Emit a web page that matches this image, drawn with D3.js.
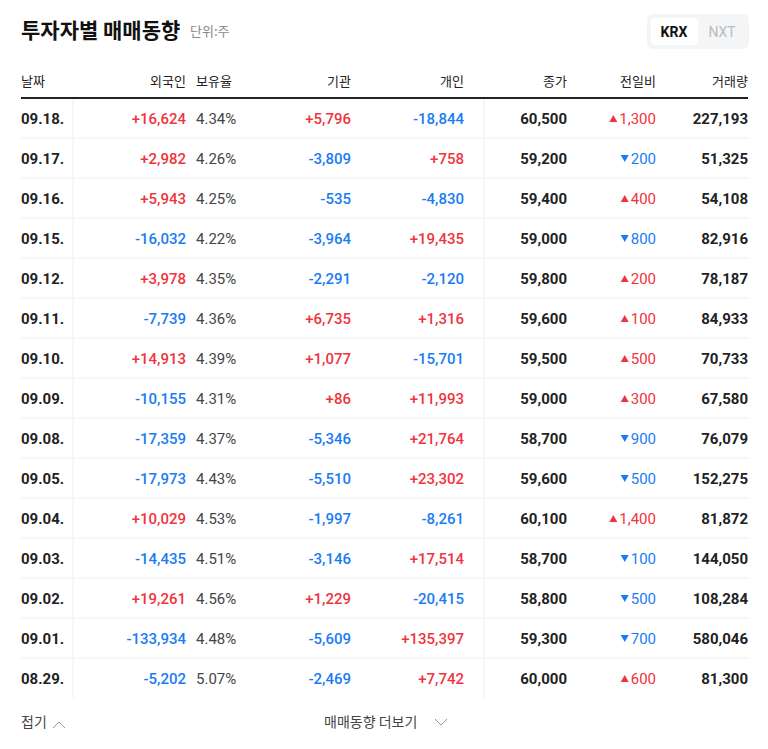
<!DOCTYPE html><html><head><meta charset="utf-8"><script src="https://cdn.jsdelivr.net/npm/d3@7"></script>
<style>body{margin:0;background:#fff}text{font-family:"Noto Sans CJK KR","Noto Sans",sans-serif}.n{font-family:Roboto,"Liberation Sans",sans-serif}</style></head><body>
<svg id="c" width="768" height="749"></svg>
<script>
const dates=["09.18.","09.17.","09.16.","09.15.","09.12.","09.11.","09.10.","09.09.","09.08.","09.05.","09.04.","09.03.","09.02.","09.01.","08.29."];
const foreign=[16624,2982,5943,-16032,3978,-7739,14913,-10155,-17359,-17973,10029,-14435,19261,-133934,-5202];
const holding=[4.34,4.26,4.25,4.22,4.35,4.36,4.39,4.31,4.37,4.43,4.53,4.51,4.56,4.48,5.07];
const inst=[5796,-3809,-535,-3964,-2291,6735,1077,86,-5346,-5510,-1997,-3146,1229,-5609,-2469];
const indiv=[-18844,758,-4830,19435,-2120,1316,-15701,11993,21764,23302,-8261,17514,-20415,135397,7742];
const close=[60500,59200,59400,59000,59800,59600,59500,59000,58700,59600,60100,58700,58800,59300,60000];
const change=[1300,-200,400,-800,200,100,500,300,-900,-500,1400,-100,-500,-700,600];
const volume=[227193,51325,54108,82916,78187,84933,70733,67580,76079,152275,81872,144050,108284,580046,81300];
const headers=["날짜","외국인","보유율","기관","개인","종가","전일비","거래량"];
const RED="#f0343d",BLUE="#1a7cf5",DARK="#222";
const svg=d3.select("#c");
const fmt=d3.format(",");
const sg=v=>(v>0?"+":v<0?"-":"")+fmt(Math.abs(v));
const col=v=>v>0?RED:v<0?BLUE:DARK;
const y=d3.scaleBand().domain(d3.range(dates.length)).range([98,698]);
svg.append("text").attr("x",21).attr("y",38).attr("font-size",21).attr("font-weight",700).attr("fill","#111").text("투자자별 매매동향");
svg.append("text").attr("x",190).attr("y",36).attr("font-size",13).attr("fill","#888").text("단위:주");
svg.append("rect").attr("x",647).attr("y",14).attr("width",102).attr("height",35).attr("rx",6).attr("fill","#f4f5f7");
svg.append("rect").attr("x",651).attr("y",18).attr("width",47).attr("height",27).attr("rx",4).attr("fill","#fff");
svg.append("text").attr("class","n").attr("x",674).attr("y",37).attr("text-anchor","middle").attr("font-size",14).attr("font-weight",700).attr("fill","#111").text("KRX");
svg.append("text").attr("class","n").attr("x",722).attr("y",37).attr("text-anchor","middle").attr("font-size",14).attr("fill","#bbb").text("NXT");
const hx=[[21,"start"],[186,"end"],[196,"start"],[351,"end"],[464,"end"],[567,"end"],[656,"end"],[748,"end"]];
headers.forEach((h,i)=>svg.append("text").attr("x",hx[i][0]).attr("y",86).attr("text-anchor",hx[i][1]).attr("font-size",13).attr("fill","#222").text(h));
svg.append("line").attr("x1",73).attr("x2",73).attr("y1",98).attr("y2",698).attr("stroke","#eee");
svg.append("line").attr("x1",484).attr("x2",484).attr("y1",98).attr("y2",698).attr("stroke","#eee");
const rows=svg.selectAll("g.r").data(dates).join("g").attr("transform",(d,i)=>`translate(0,${y(i)})`);
rows.filter((d,i)=>i<dates.length-1).append("line").attr("x1",21).attr("x2",748).attr("y1",40).attr("y2",40).attr("stroke","#eee");
const ty=26;
const N=(x,anchor,fn,color,w)=>rows.append("text").attr("class","n").attr("x",x).attr("y",ty).attr("text-anchor",anchor).attr("font-size",15).attr("font-weight",w).attr("fill",color).text(fn);
N(21,"start",d=>d,DARK,700);
N(186,"end",(d,i)=>sg(foreign[i]),(d,i)=>col(foreign[i]),500);
N(196,"start",(d,i)=>holding[i].toFixed(2)+"%","#444",400);
N(351,"end",(d,i)=>sg(inst[i]),(d,i)=>col(inst[i]),500);
N(464,"end",(d,i)=>sg(indiv[i]),(d,i)=>col(indiv[i]),500);
N(567,"end",(d,i)=>fmt(close[i]),DARK,700);
N(656,"end",(d,i)=>fmt(Math.abs(change[i])),(d,i)=>col(change[i]),400);
N(748,"end",(d,i)=>fmt(volume[i]),DARK,700);
rows.each(function(d,i){
  const g=d3.select(this);const w=this.querySelectorAll("text")[6].getComputedTextLength();
  const cx=656-w-6;
  const p=change[i]>0?`M${cx-4},${ty-2}L${cx+4},${ty-2}L${cx},${ty-9}Z`:`M${cx-4},${ty-9}L${cx+4},${ty-9}L${cx},${ty-2}Z`;
  g.append("path").attr("d",p).attr("fill",col(change[i]));
});
svg.append("line").attr("x1",21).attr("x2",748).attr("y1",98).attr("y2",98).attr("stroke","#222").attr("stroke-width",2);
svg.append("text").attr("x",21).attr("y",727).attr("font-size",14).attr("fill","#444").text("접기");
svg.append("path").attr("d","M53,728L59,722L65,728").attr("fill","none").attr("stroke","#999");
svg.append("text").attr("x",324).attr("y",727).attr("font-size",14).attr("fill","#444").text("매매동향 더보기");
svg.append("path").attr("d","M435,719L441,725L447,719").attr("fill","none").attr("stroke","#999");
</script></body></html>
